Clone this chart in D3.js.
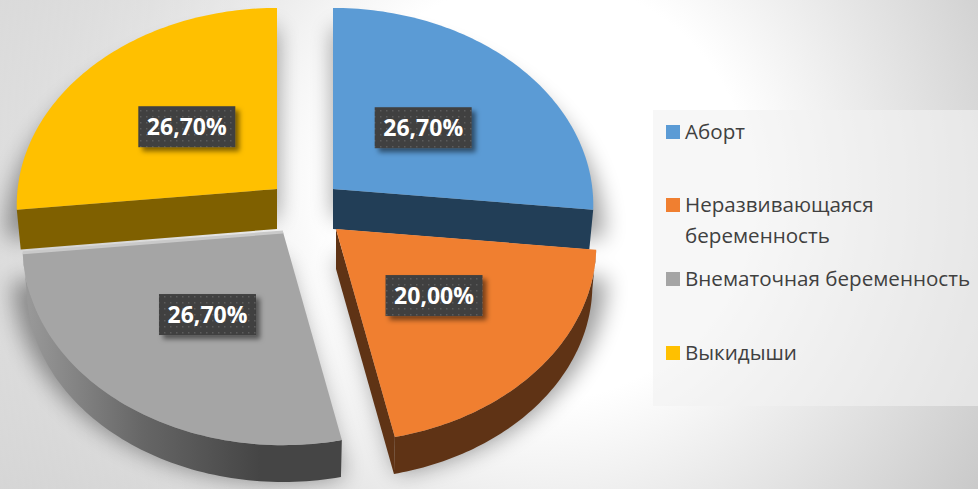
<!DOCTYPE html>
<html><head><meta charset="utf-8">
<script src="https://cdnjs.cloudflare.com/ajax/libs/d3/7.8.5/d3.min.js"></script>
<style>html,body{margin:0;padding:0;background:#fff}svg{display:block}</style>
</head><body><svg id="c" width="978" height="489"></svg>
<script>
const categories=["Аборт","Неразвивающаяся беременность","Внематочная беременность","Выкидыши"];
const values=[26.7,20,26.7,26.7];
const labels=["26,70%","20,00%","26,70%","26,70%"];
const colors=["#5B9BD5","#F07F30","#A5A5A5","#FFC000"];
const sideColors=["#223E57","#5F3315","#4a4a4a","#7F6000"];
const apexes=[[333,189],[336,229],[283,232],[277,189]];
const labelNudge=[[0,0],[3,2],[0,4],[0,-1]];
const legendLines=[["Аборт"],["Неразвивающаяся","беременность"],["Внематочная беременность"],["Выкидыши"]];
const legendY=[139,212,286,360];

const svg=d3.select("#c"),defs=svg.append("defs");
// background
const bg=defs.append("radialGradient").attr("id","bg").attr("gradientUnits","userSpaceOnUse")
 .attr("cx",540).attr("cy",190).attr("r",620);
bg.append("stop").attr("offset","0.34").attr("stop-color","#ffffff");
bg.append("stop").attr("offset","1").attr("stop-color","#bababa");
svg.append("rect").attr("width",978).attr("height",489).attr("fill","url(#bg)");
const leftGlow=defs.append("linearGradient").attr("id","leftGlow").attr("gradientUnits","userSpaceOnUse")
 .attr("x1",0).attr("x2",300).attr("y1",0).attr("y2",0);
leftGlow.append("stop").attr("offset",0).attr("stop-color","#fff").attr("stop-opacity",.4);
leftGlow.append("stop").attr("offset",1).attr("stop-color","#fff").attr("stop-opacity",0);
svg.append("rect").attr("width",300).attr("height",489).attr("fill","url(#leftGlow)");
defs.append("filter").attr("id","blur").attr("x","-30%").attr("y","-30%").attr("width","160%").attr("height","160%")
 .append("feGaussianBlur").attr("stdDeviation",11);
const ls=defs.append("filter").attr("id","ls").attr("x","-20%").attr("y","-30%").attr("width","150%").attr("height","170%");
ls.append("feDropShadow").attr("dx",4).attr("dy",4).attr("stdDeviation",2.5).attr("flood-color","#000").attr("flood-opacity",.5);
const pat=defs.append("pattern").attr("id","dots").attr("patternUnits","userSpaceOnUse").attr("width",6).attr("height",6);
pat.append("rect").attr("width",6).attr("height",6).attr("fill","#3f3f3f");
pat.append("rect").attr("x",2).attr("y",2).attr("width",1.5).attr("height",1.5).attr("fill","#5c5c5c");
const rimG=defs.append("linearGradient").attr("id","rim").attr("gradientUnits","userSpaceOnUse")
 .attr("x1",25).attr("x2",260).attr("y1",0).attr("y2",0);
rimG.append("stop").attr("offset",0).attr("stop-color","#9a9a9a");
rimG.append("stop").attr("offset",.5).attr("stop-color","#666");
rimG.append("stop").attr("offset",1).attr("stop-color","#454545");

// perspective projection of the disc
const Rx=259.4,Ry=195.8,k=.0815,depth=40,shrink=.985;
function proj(a,f=1){const X=Math.sin(a)*f,Y=-Math.cos(a)*f,w=1-k*Y;return [Rx*X/w,Ry*Y/w];}
const pieData=d3.pie().sort(null)(values);
const line=d3.line();
function arcPts(s,e){const n=80;return d3.range(n+1).map(i=>proj(s+(e-s)*i/n));}
const slices=pieData.map((p,i)=>({i,a0:p.startAngle,a1:p.endAngle,apex:apexes[i]}));
const upper=(d,p)=>[d.apex[0]+p[0],d.apex[1]+p[1]];
const lower=(d,p)=>[d.apex[0]+p[0]*shrink,d.apex[1]+depth+p[1]*shrink];
const topShape=d=>[d.apex].concat(arcPts(d.a0,d.a1).map(p=>upper(d,p)));

// shadows
const sh=svg.append("g").attr("filter","url(#blur)").attr("opacity",.38);
slices.forEach(d=>{
 const a=arcPts(d.a0,d.a1);
 const T=p=>[d.apex[0]+p[0]*1.04,d.apex[1]+28+p[1]*1.04];
 sh.append("path").attr("d",line([[d.apex[0],d.apex[1]+28]].concat(a.map(T)))+"Z").attr("fill","#000");
});

// draw back to front
function drawSlice(i){
 const d=slices[i],g=svg.append("g");
 const a=arcPts(d.a0,d.a1);
 if(i===1||i===2){
  const rim=a.map(p=>upper(d,p)).concat(a.slice().reverse().map(p=>lower(d,p)));
  g.append("path").attr("d",line(rim)+"Z").attr("fill",i===2?"url(#rim)":sideColors[i]);
 }
 const faceEnd=i===0?d.a1:i===3?d.a0:i===1?d.a1:null;
 if(faceEnd!==null){
  const e=proj(faceEnd);
  g.append("path").attr("d",line([d.apex,upper(d,e),lower(d,e),[d.apex[0],d.apex[1]+depth]])+"Z").attr("fill",sideColors[i]);
 }
 g.append("path").attr("d",line(topShape(d))+"Z").attr("fill",colors[i]);
 if(i===2){
  const e=proj(d.a1);
  g.append("path").attr("d",line([d.apex,upper(d,e)])).attr("stroke","#c9c9c9").attr("stroke-width",3).attr("fill","none");
 }
}
[3,0,2,1].forEach(drawSlice);

// data labels
const lw=97,lh=41;
slices.forEach(d=>{
 const m=(d.a0+d.a1)/2,p=proj(m,.48);
 const cx=d.apex[0]+p[0]+labelNudge[d.i][0],cy=d.apex[1]+p[1]+labelNudge[d.i][1];
 const g=svg.append("g");
 g.append("rect").attr("x",cx-lw/2).attr("y",cy-lh/2).attr("width",lw).attr("height",lh).attr("fill","url(#dots)").attr("filter","url(#ls)");
 g.append("text").attr("x",cx).attr("y",cy+8.5).attr("text-anchor","middle").attr("fill","#fff")
  .attr("font-family","'Open Sans'").attr("font-weight",700).attr("font-size",23).text(labels[d.i]);
});

// legend
svg.append("rect").attr("x",653).attr("y",110).attr("width",325).attr("height",296).attr("fill","#f2f2f2").attr("fill-opacity",.6);
categories.forEach((c,i)=>{
 svg.append("rect").attr("x",666).attr("y",legendY[i]-14).attr("width",14).attr("height",14).attr("fill",colors[i]);
 legendLines[i].forEach((t,j)=>{
  svg.append("text").attr("x",685).attr("y",legendY[i]+j*31).attr("fill","#404040")
   .attr("font-family","'Open Sans'").attr("font-size",20.6).text(t);
 });
});
</script></body></html>
